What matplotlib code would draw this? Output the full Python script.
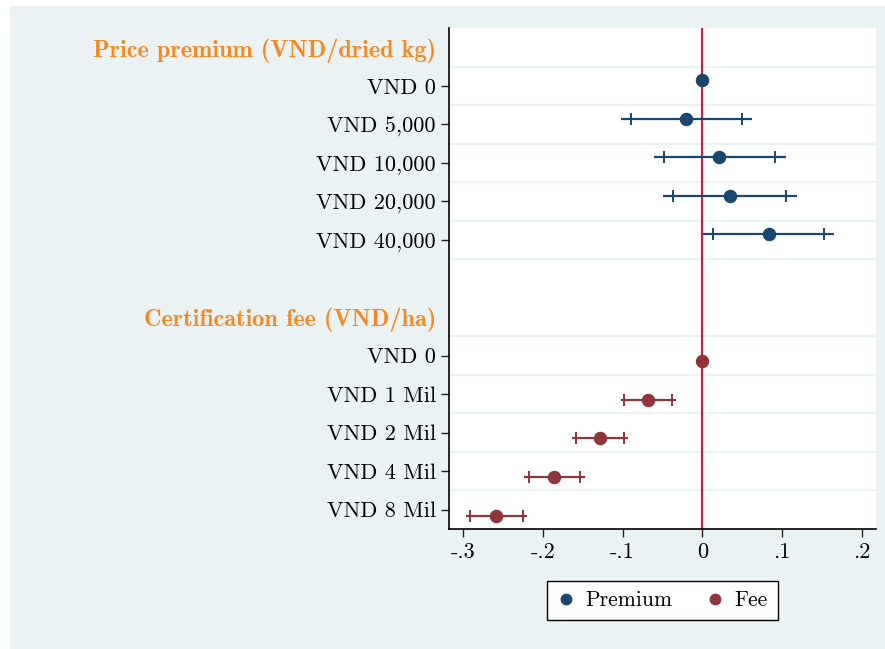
import matplotlib
matplotlib.use("Agg")
import matplotlib.pyplot as plt
import numpy as np
from matplotlib.patches import Rectangle
from matplotlib.lines import Line2D

# values (coefficients, 95% and 90% CIs)
prem_labels = ["VND 0", "VND 5,000", "VND 10,000", "VND 20,000", "VND 40,000"]
prem_coef = [0.0, -0.0205, 0.0213, 0.0348, 0.0833]
prem_lo95 = [np.nan, -0.1024, -0.0602, -0.0497, 0.0013]
prem_hi95 = [np.nan, 0.0628, 0.1047, 0.1185, 0.1657]
prem_lo90 = [np.nan, -0.0895, -0.0477, -0.0364, 0.0138]
prem_hi90 = [np.nan, 0.0494, 0.0912, 0.1050, 0.1527]

fee_labels = ["VND 0", "VND 1 Mil", "VND 2 Mil", "VND 4 Mil", "VND 8 Mil"]
fee_coef = [0.0, -0.0678, -0.1280, -0.1857, -0.2585]
fee_lo95 = [np.nan, -0.1020, -0.1639, -0.2234, -0.2971]
fee_hi95 = [np.nan, -0.0334, -0.0929, -0.1476, -0.2196]
fee_lo90 = [np.nan, -0.0979, -0.1589, -0.2175, -0.2916]
fee_hi90 = [np.nan, -0.0384, -0.0986, -0.1531, -0.2254]

headers = ["Price premium (VND/dried kg)", "Certification fee (VND/ha)"]
xticks = [-0.3, -0.2, -0.1, 0, 0.1, 0.2]
xtick_labels = ["-.3", "-.2", "-.1", "0", ".1", ".2"]

navy = "#1A476F"
maroon = "#90353B"
orange = "#F5891F"
bg = "#EAF2F3"

plt.rcParams["font.family"] = "cmr10"
plt.rcParams["axes.unicode_minus"] = False
fs = 16

W, H = 885, 649
fig = plt.figure(figsize=(W / 100, H / 100), dpi=100, facecolor="white")
fig.patches.append(Rectangle((10 / W, 0), (W - 10) / W, (H - 6) / H,
                             transform=fig.transFigure, facecolor=bg,
                             edgecolor="none", zorder=-5))

left, right, top, bottom = 449, 876, 28, 529
ax = fig.add_axes([left / W, 1 - bottom / H, (right - left) / W, (bottom - top) / H])
ax.set_facecolor("white")

# row layout: header, 5 rows, gap, header, 5 rows
prem_rows = np.arange(1, 6)
fee_rows = np.arange(8, 13)
off = 0.15

for y in list(np.arange(0.5, 6)) + list(np.arange(7.5, 12)):
    ax.axhline(y, color=bg, lw=1.6, zorder=1)

ax.axvline(0, color="#D4174A", lw=1.5, zorder=2)

def draw_series(rows, coef, lo95, hi95, lo90, hi90, color, shift):
    yy = rows + shift
    ax.hlines(yy, lo95, hi95, color=color, lw=1.6, zorder=3)
    ax.plot(lo90, yy, ls="none", marker="|", ms=8, mew=1.4, color=color, zorder=3)
    ax.plot(hi90, yy, ls="none", marker="|", ms=8, mew=1.4, color=color, zorder=3)
    ax.plot(coef, yy, ls="none", marker="o", ms=8.7, color=color, zorder=4)

draw_series(prem_rows, prem_coef, prem_lo95, prem_hi95, prem_lo90, prem_hi90, navy, -off)
draw_series(fee_rows, fee_coef, fee_lo95, fee_hi95, fee_lo90, fee_hi90, maroon, off)

ax.set_xlim(-0.3179, 0.218)
ax.set_ylim(12.5, -0.5)

ax.set_yticks(list(prem_rows) + list(fee_rows))
ax.set_yticklabels(prem_labels + fee_labels, fontsize=fs)
ax.set_xticks(xticks)
ax.set_xticklabels(xtick_labels, fontsize=fs)
ax.tick_params(axis="both", length=6, width=1, color="#222222", pad=3.5)

for hy, txt in zip([0, 7], headers):
    ax.annotate(txt, xy=(0, hy), xycoords=("axes fraction", "data"),
                xytext=(-9.5, 0), textcoords="offset points", ha="right",
                va="center_baseline", fontsize=17.5, color=orange,
                family="cmb10")

for s in ["top", "right"]:
    ax.spines[s].set_visible(False)
for s in ["left", "bottom"]:
    ax.spines[s].set_linewidth(1.2)
    ax.spines[s].set_color("black")

handles = [Line2D([], [], ls="none", marker="o", ms=7.5, color=navy),
           Line2D([], [], ls="none", marker="o", ms=7.5, color=maroon)]
leg = fig.legend(handles, ["Premium", "Fee"], loc="center",
                 bbox_to_anchor=(662.5 / W, 1 - 600.5 / H), ncol=2,
                 fontsize=15.5, frameon=True, fancybox=False, edgecolor="black",
                 framealpha=1, handlelength=0.8, handletextpad=0.5,
                 columnspacing=1.6, borderpad=0.45)
leg.get_frame().set_linewidth(1.0)

fig.savefig("out.png", dpi=100, facecolor="white")
